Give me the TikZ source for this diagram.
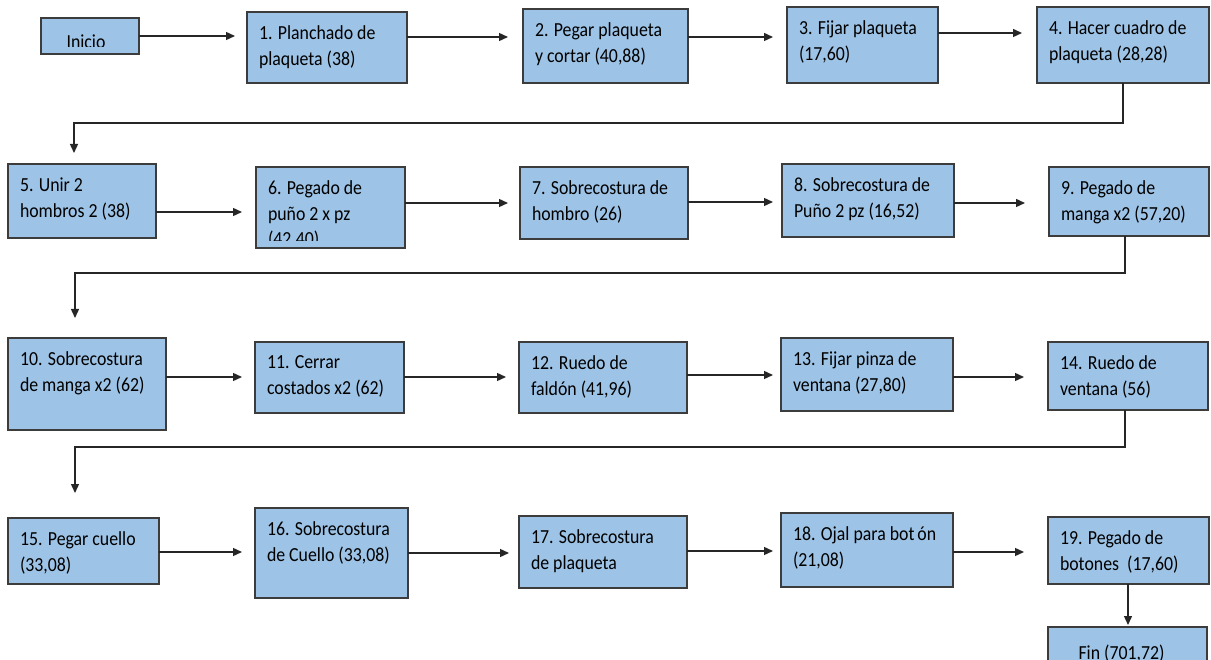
\documentclass[tikz,border=0pt]{standalone}
\usepackage{fontspec}
\setmainfont{Carlito}
\usetikzlibrary{arrows.meta,positioning}
\definecolor{azulcaja}{HTML}{9DC3E6}
\definecolor{bordecaja}{HTML}{3C3C3C}

\begin{document}
\begin{tikzpicture}[x=1pt, y=-1pt]
        \tikzstyle{texto}=[inner sep=0pt, minimum width=0pt, minimum height=0pt, text=black, align=left, yscale=1.12, transform shape, font=\fontsize{17.8}{22.8}\selectfont]
        \tikzstyle{caja}=[draw=bordecaja, fill=azulcaja, line width=1.2pt, inner sep=0pt, outer sep=0pt, anchor=north west]
        \tikzstyle{paso}=[caja, path picture={\clip (path picture bounding box.north west) rectangle ([yshift=7pt]path picture bounding box.south east);
            \node[texto, anchor=north west] at ([shift={(12pt,-14pt)}]path picture bounding box.north west) {#1};}]
        \tikzstyle{inicio}=[caja, path picture={\clip (path picture bounding box.north west) rectangle ([yshift=7pt]path picture bounding box.south east);
            \node[texto, anchor=north] at ([shift={(-4pt,-17pt)}]path picture bounding box.north) {#1};}]
        \tikzstyle{fin}=[caja, path picture={\node[texto, anchor=north] at ([shift={(-6pt,-18pt)}]path picture bounding box.north) {#1};}]
        \tikzstyle{conector}=[draw=black!85, line width=1.4pt, -{Triangle[length=9pt,width=8pt]}]
        \useasboundingbox (0,0) rectangle (1211,660);
        % fila 1
        \node[inicio={Inicio}, minimum width=98pt, minimum height=36pt] (inicio) at (41,18) {};
        \node[paso={1. Planchado de\\plaqueta (38)}, minimum width=160pt, minimum height=71pt] (p1) at (247,12) {};
        \node[paso={2. Pegar plaqueta\\y cortar (40,88)}, minimum width=165pt, minimum height=74pt] (p2) at (523,9) {};
        \node[paso={3. Fijar plaqueta\\(17,60)}, minimum width=151pt, minimum height=76pt] (p3) at (787,7) {};
        \node[paso={4. Hacer cuadro de\\plaqueta (28,28)}, minimum width=172pt, minimum height=76pt] (p4) at (1037,7) {};
        % fila 2
        \node[paso={5. Unir 2\\hombros 2 (38)}, minimum width=148pt, minimum height=74pt] (p5) at (8,164) {};
        \node[paso={6. Pegado de\\puño 2 x pz\\(42,40)}, minimum width=149pt, minimum height=81pt] (p6) at (256,167) {};
        \node[paso={7. Sobrecostura de\\hombro (26)}, minimum width=168pt, minimum height=72pt] (p7) at (520,167) {};
        \node[paso={8. Sobrecostura de\\Puño 2 pz (16,52)}, minimum width=172pt, minimum height=73pt] (p8) at (782,164) {};
        \node[paso={9. Pegado de\\manga x2 (57,20)}, minimum width=160pt, minimum height=69pt] (p9) at (1049,167) {};
        % fila 3
        \node[paso={10. Sobrecostura\\de manga x2 (62)}, minimum width=158pt, minimum height=92pt] (p10) at (8,338) {};
        \node[paso={11. Cerrar\\costados x2 (62)}, minimum width=149pt, minimum height=71pt] (p11) at (255,342) {};
        \node[paso={12. Ruedo de\\faldón (41,96)}, minimum width=168pt, minimum height=71pt] (p12) at (519,342) {};
        \node[paso={13. Fijar pinza de\\ventana (27,80)}, minimum width=172pt, minimum height=73pt] (p13) at (781,338) {};
        \node[paso={14. Ruedo de\\ventana (56)}, minimum width=160pt, minimum height=68pt] (p14) at (1048,342) {};
        % fila 4
        \node[paso={15. Pegar cuello\\(33,08)}, minimum width=151pt, minimum height=66pt] (p15) at (8,518) {};
        \node[paso={16. Sobrecostura\\de Cuello (33,08)}, minimum width=153pt, minimum height=90pt] (p16) at (255,508) {};
        \node[paso={17. Sobrecostura\\de plaqueta}, minimum width=168pt, minimum height=72pt] (p17) at (519,516) {};
        \node[paso={18. Ojal para bot\,ón\\(21,08)}, minimum width=172pt, minimum height=74pt] (p18) at (781,513) {};
        \node[paso={19. Pegado de\\botones~ (17,60)}, minimum width=161pt, minimum height=67pt] (p19) at (1048,517) {};
        \node[fin={Fin (701,72)}, minimum width=159pt, minimum height=50pt] (fin) at (1048,627) {};
        % flechas
        \draw[conector, shorten >=12pt] (inicio.east) -- (inicio.east -| p1.west);
        \foreach \a/\b/\y/\g in {p1/p2/37/15, p2/p3/37/14, p3/p4/33/15, p5/p6/212/14, p6/p7/203/12, p7/p8/202/9, p8/p9/203/24,
            p10/p11/377/13, p11/p12/377/13, p12/p13/375/8, p13/p14/377/24, p15/p16/552/13, p16/p17/553/10, p17/p18/551/8, p18/p19/552/24}
            \draw[conector, shorten >=\g pt] (\a.east |- 0,\y) -- (\b.west |- 0,\y);
        \draw[conector, shorten >=11pt] (p4.south -| 1123,0) |- (74,123) -- (p5.north -| 74,0);
        \draw[conector, shorten >=20pt] (p9.south -| 1125,0) |- (75,273) -- (p10.north -| 75,0);
        \draw[conector, shorten >=25pt] (p14.south -| 1125,0) |- (75,447) -- (p15.north -| 75,0);
        \draw[conector, shorten >=2pt] (p19.south -| 1128,0) -- (fin.north -| 1128,0);
    \end{tikzpicture}
\end{document}
